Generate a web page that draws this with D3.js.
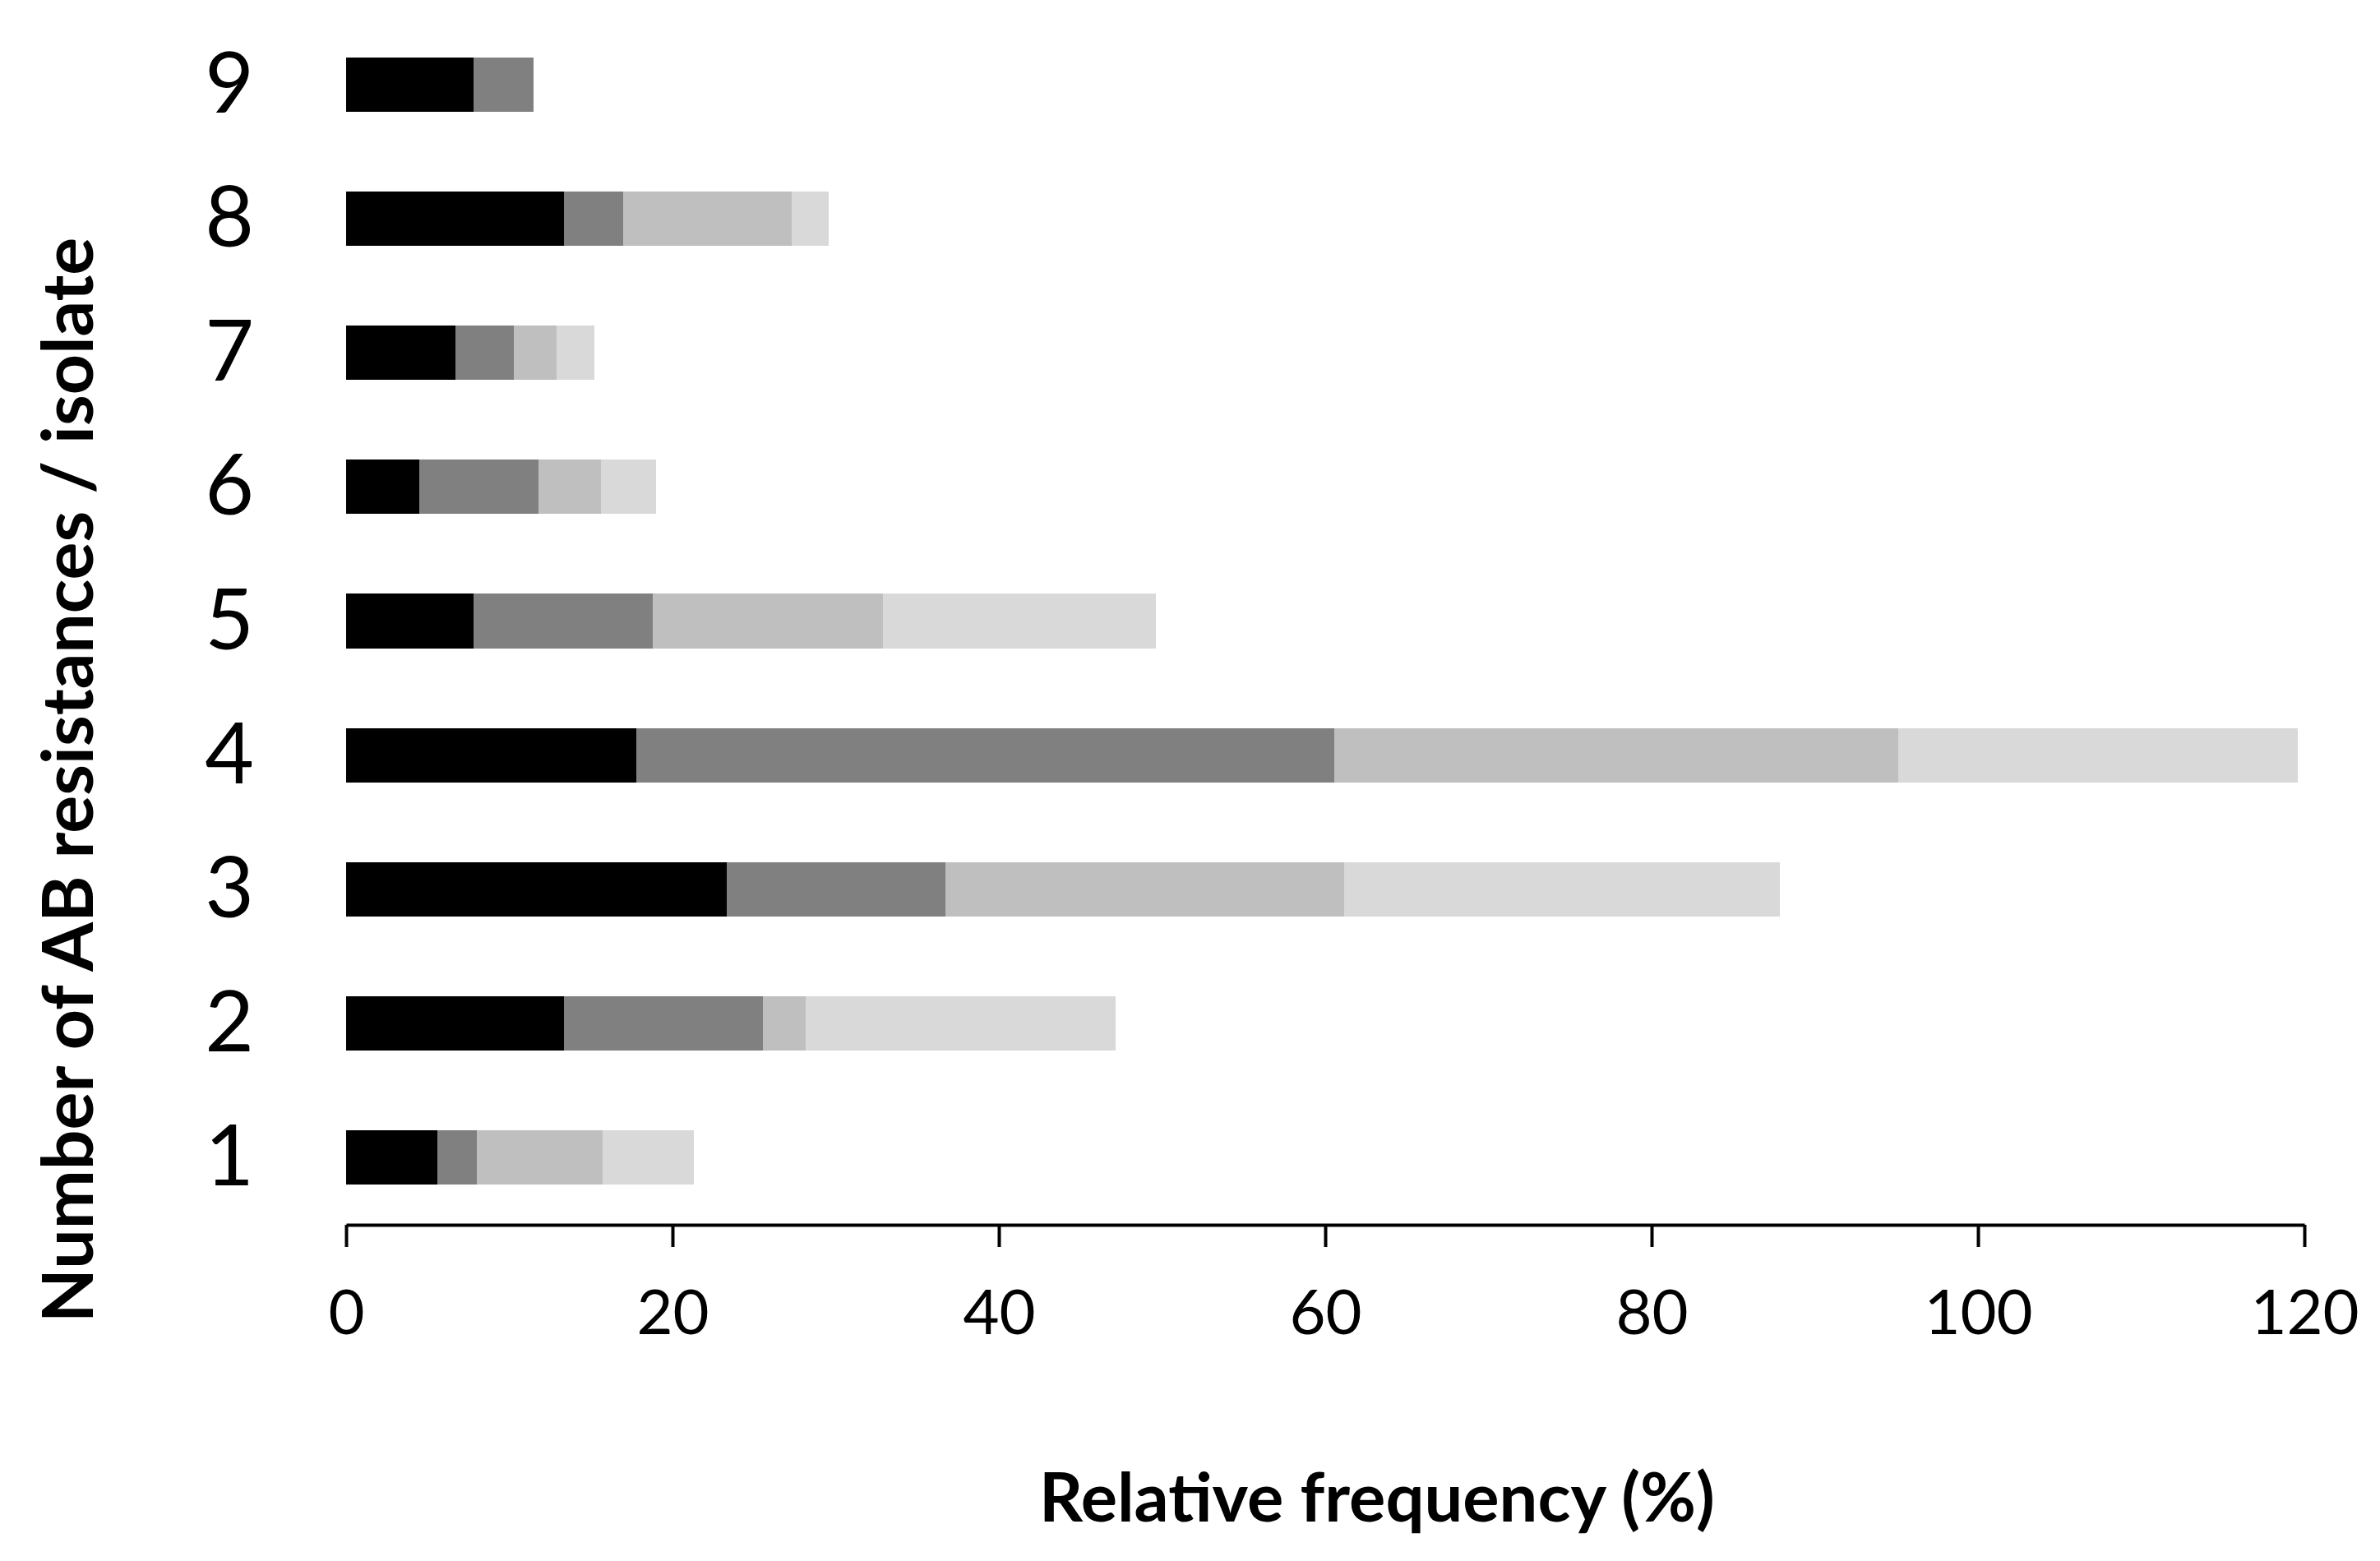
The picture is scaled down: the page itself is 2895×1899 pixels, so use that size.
<!DOCTYPE html>
<html>
<head>
<meta charset="utf-8">
<script src="https://cdn.jsdelivr.net/npm/d3@7"></script>
<style>
  html, body { margin: 0; padding: 0; background: #ffffff; }
  svg { display: block; }
</style>
</head>
<body>
<div id="chart"></div>
<script>
// ---- data ----
const categories = ["1", "2", "3", "4", "5", "6", "7", "8", "9"];
const seriesNames = ["Series 1", "Series 2", "Series 3", "Series 4"];
const series1 = [5.6, 13.35, 23.3, 17.8, 7.8, 4.5, 6.7, 13.35, 7.8];
const series2 = [2.4, 12.2, 13.45, 42.75, 11.0, 7.3, 3.6, 3.65, 3.7];
const series3 = [7.7, 2.6, 24.4, 34.55, 14.1, 3.8, 2.6, 10.3, 0];
const series4 = [5.6, 19.0, 26.7, 24.5, 16.7, 3.4, 2.3, 2.25, 0];
const xTickValues = [0, 20, 40, 60, 80, 100, 120];
const xAxisTitle = "Relative frequency (%)";
const yAxisTitle = "Number of AB resistances / isolate";
const seriesColors = ["#000000", "#808080", "#bfbfbf", "#d9d9d9"];

// ---- layout ----
const W = 2895, H = 1899;
const FONT = "Lato, 'Open Sans', 'Liberation Sans', sans-serif";

const svg = d3.select("#chart").append("svg")
  .attr("width", W).attr("height", H)
  .attr("viewBox", `0 0 ${W} ${H}`);
svg.append("rect").attr("width", W).attr("height", H).attr("fill", "#ffffff");

const x = d3.scaleLinear().domain([0, 120]).range([421, 2803]);
const y = d3.scaleBand()
  .domain(categories.slice().reverse())
  .range([21.5, 1489.5])
  .paddingInner(0.595)
  .paddingOuter(0.2975);

const table = categories.map((c, i) => ({
  cat: c,
  [seriesNames[0]]: series1[i],
  [seriesNames[1]]: series2[i],
  [seriesNames[2]]: series3[i],
  [seriesNames[3]]: series4[i]
}));
const stacked = d3.stack().keys(seriesNames)(table);
const color = d3.scaleOrdinal().domain(seriesNames).range(seriesColors);

svg.append("g").selectAll("g")
  .data(stacked).join("g")
  .attr("fill", d => color(d.key))
  .selectAll("rect")
  .data(d => d.filter(p => p[1] - p[0] > 0))
  .join("rect")
  .attr("x", d => x(d[0]))
  .attr("width", d => x(d[1]) - x(d[0]))
  .attr("y", d => y(d.data.cat))
  .attr("height", y.bandwidth())
  .attr("shape-rendering", "crispEdges");

// x axis
const axisY = 1490;
const xAxis = svg.append("g")
  .attr("transform", `translate(0,${axisY})`)
  .call(d3.axisBottom(x).tickValues(xTickValues).tickSize(27).tickSizeOuter(0).tickPadding(50));
xAxis.select(".domain").attr("stroke", "#000").attr("stroke-width", 4);
xAxis.selectAll(".tick line").attr("stroke", "#000").attr("stroke-width", 4);
xAxis.selectAll(".tick text")
  .attr("font-family", FONT)
  .attr("font-size", 76)
  .attr("fill", "#000")
  .attr("dy", null)
  .attr("y", 133)
  .attr("dominant-baseline", "alphabetic");

// category labels (y axis, no line)
svg.append("g").selectAll("text")
  .data(categories).join("text")
  .attr("x", 309)
  .attr("y", d => y(d) + y.bandwidth() / 2 + 34)
  .attr("text-anchor", "end")
  .attr("font-family", FONT)
  .attr("font-size", 103)
  .attr("fill", "#000")
  .text(d => d);

// axis titles
svg.append("text")
  .attr("x", 1675).attr("y", 1851)
  .attr("text-anchor", "middle")
  .attr("font-family", FONT)
  .attr("font-weight", "bold")
  .attr("font-size", 83)
  .attr("fill", "#000")
  .text(xAxisTitle);

svg.append("text")
  .attr("transform", "translate(113,949) rotate(-90)")
  .attr("text-anchor", "middle")
  .attr("font-family", FONT)
  .attr("font-weight", "bold")
  .attr("font-size", 86)
  .attr("fill", "#000")
  .text(yAxisTitle);
</script>
</body>
</html>
